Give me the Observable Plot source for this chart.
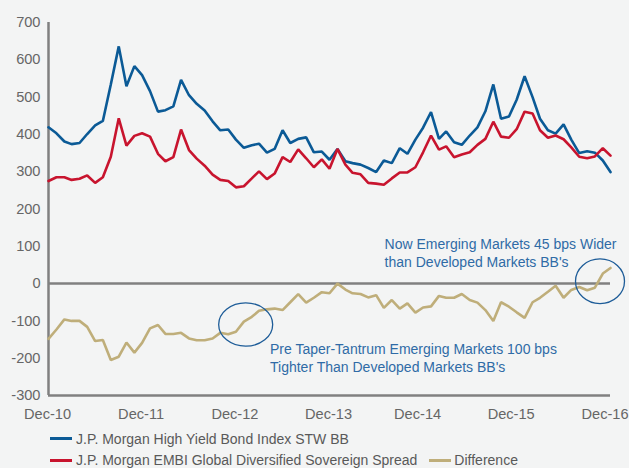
<!DOCTYPE html>
<html>
<head>
<meta charset="utf-8">
<script src="https://cdn.jsdelivr.net/npm/d3@7"></script>
<script src="https://cdn.jsdelivr.net/npm/@observablehq/plot@0.6"></script>
<style>
  html, body { margin: 0; padding: 0; background: #f3f4f4; }
  body { width: 629px; height: 468px; position: relative; overflow: hidden; font-family: "Liberation Sans", Arial, sans-serif; }
  #chart svg { display: block; }
  .legend { position: absolute; left: 50px; top: 428.6px; font-size: 14px; color: #595959; line-height: 21.4px; white-space: nowrap; }
  .sw { display: inline-block; width: 22px; height: 3px; vertical-align: middle; margin-right: 4px; position: relative; top: -1px; }
</style>
</head>
<body>
<div id="chart"></div>
<div class="legend">
  <div><span class="sw" id="sw1"></span><span id="lg1"></span></div>
  <div><span class="sw" id="sw2"></span><span id="lg2"></span><span class="sw" id="sw3" style="margin-left:12px;margin-right:3px"></span><span id="lg3"></span></div>
</div>
<script>
// Monthly observations, Dec-2010 .. Dec-2016
const months = d3.utcMonth.range(new Date(Date.UTC(2010, 11, 1)), new Date(Date.UTC(2017, 0, 1)));

const seriesNames = [
  "J.P. Morgan High Yield Bond Index STW BB",
  "J.P. Morgan EMBI Global Diversified Sovereign Spread",
  "Difference"
];
const seriesColors = ["#0b5a96", "#c8142e", "#bfae7a"];

const hyBB = [
  419, 403, 381, 374, 377, 401, 424, 436, 534, 636, 529, 583, 559, 516, 461, 465, 475, 546,
  505, 482, 464, 435, 411, 413, 386, 364, 371, 375, 351, 361, 411, 377, 388, 392, 352, 354, 332,
  361, 328, 323, 319, 310, 299, 330, 323, 363, 348, 386, 418, 460, 388, 408, 379, 372, 397, 419,
  462, 534, 442, 448, 493, 556, 500, 442, 411, 402, 427, 386, 350, 355, 351, 330, 299
];
const embi = [
  275, 285, 285, 278, 281, 290, 270, 285, 340, 443, 370, 396, 403, 394, 348, 328, 339, 413,
  358, 335, 316, 292, 278, 275, 258, 261, 282, 301, 280, 295, 339, 326, 360, 336, 312, 333, 308,
  361, 319, 297, 293, 270, 268, 265, 282, 298, 298, 312, 352, 397, 359, 368, 339, 346, 352, 372,
  388, 434, 394, 391, 414, 461, 456, 411, 391, 397, 387, 365, 340, 336, 341, 363, 343
];
const difference = [
  -148, -123, -96, -100, -100, -116, -154, -151, -205, -196, -158, -185, -159, -120, -111, -135, -135, -132,
  -147, -152, -152, -147, -132, -136, -129, -102, -89, -73, -69, -67, -71, -50, -28, -51, -38, -23, -26,
  0, -16, -26, -28, -37, -31, -65, -44, -67, -53, -78, -64, -61, -33, -38, -38, -28, -44, -51,
  -71, -100, -50, -62, -77, -92, -50, -38, -22, -6, -38, -17, -9, -18, -11, 27, 42
];

const yTicks = [-300, -200, -100, 0, 100, 200, 300, 400, 500, 600, 700];
const xTickYearsEarly = [2010, 2011, 2012, 2013];
const xTickYearsLate = [2014, 2015, 2016];
const toDec = y => new Date(Date.UTC(y, 11, 1));

// Annotations (data coordinates)
const notes = [
  {date: new Date(Date.UTC(2013, 3, 13)), value: -198,
   text: "Pre Taper-Tantrum Emerging Markets 100 bps\nTighter Than Developed Markets BB's"},
  {date: new Date(Date.UTC(2014, 6, 4)), value: 84,
   text: "Now Emerging Markets 45 bps Wider\nthan Developed Markets BB's"}
];
const circles = [
  {date: new Date(Date.UTC(2013, 0, 10)), value: -111, rx: 27, ry: 21.7},
  {date: new Date(Date.UTC(2016, 9, 23)), value: 5, rx: 24.5, ry: 22.3}
];

const axisGray = "#808080";
const noteBlue = "#2f6ba6";
const xFmt = d3.utcFormat("%b-%y");

const chart = Plot.plot({
  width: 629,
  height: 425,
  marginTop: 22,
  marginBottom: 30,
  marginLeft: 48,
  marginRight: 19,
  style: {background: "transparent", fontFamily: "'Liberation Sans', Arial, sans-serif", fontSize: "14.6px", color: "#666"},
  x: {type: "utc", domain: [months[0], months[months.length - 1]]},
  y: {domain: [-300, 700]},
  marks: [
    Plot.axisY({ticks: yTicks, tickSize: 0, tickPadding: 8, tickFormat: d => String(d), label: null, fill: "#666"}),
    Plot.axisX({ticks: xTickYearsEarly.map(toDec), tickSize: 0, tickPadding: 13, tickFormat: xFmt, label: null, fill: "#666", dx: -1}),
    Plot.axisX({ticks: xTickYearsLate.map(toDec), tickSize: 0, tickPadding: 13, tickFormat: xFmt, label: null, fill: "#666", dx: -5.5}),
    Plot.ruleY([0, -300], {stroke: axisGray, strokeWidth: 2.5}),
    Plot.ruleX([months[0]], {stroke: axisGray, strokeWidth: 2.5}),
    Plot.line(hyBB, {x: months, y: Plot.identity, stroke: seriesColors[0], strokeWidth: 2.6, strokeLinejoin: "miter"}),
    Plot.line(embi, {x: months, y: Plot.identity, stroke: seriesColors[1], strokeWidth: 2.6, strokeLinejoin: "miter"}),
    Plot.line(difference, {x: months, y: Plot.identity, stroke: seriesColors[2], strokeWidth: 2.6, strokeLinejoin: "miter"}),
    Plot.text(notes, {x: "date", y: "value", text: "text", textAnchor: "start", lineAnchor: "middle", lineHeight: 1.31, fill: noteBlue, fontSize: 14})
  ]
});

// Ellipses positioned through the chart's own scales
const xs = chart.scale("x"), ys = chart.scale("y");
const svg = d3.select(chart.tagName.toLowerCase() === "svg" ? chart : chart.querySelector("svg"));
svg.append("g").selectAll("ellipse").data(circles).join("ellipse")
  .attr("cx", d => xs.apply(d.date))
  .attr("cy", d => ys.apply(d.value))
  .attr("rx", d => d.rx)
  .attr("ry", d => d.ry)
  .attr("fill", "none")
  .attr("stroke", "#1d5c98")
  .attr("stroke-width", 1.3);

document.getElementById("chart").appendChild(chart);

document.getElementById("lg1").textContent = seriesNames[0];
document.getElementById("lg2").textContent = seriesNames[1];
document.getElementById("lg3").textContent = seriesNames[2];
document.getElementById("sw1").style.background = seriesColors[0];
document.getElementById("sw2").style.background = seriesColors[1];
document.getElementById("sw3").style.background = seriesColors[2];
</script>
</body>
</html>
